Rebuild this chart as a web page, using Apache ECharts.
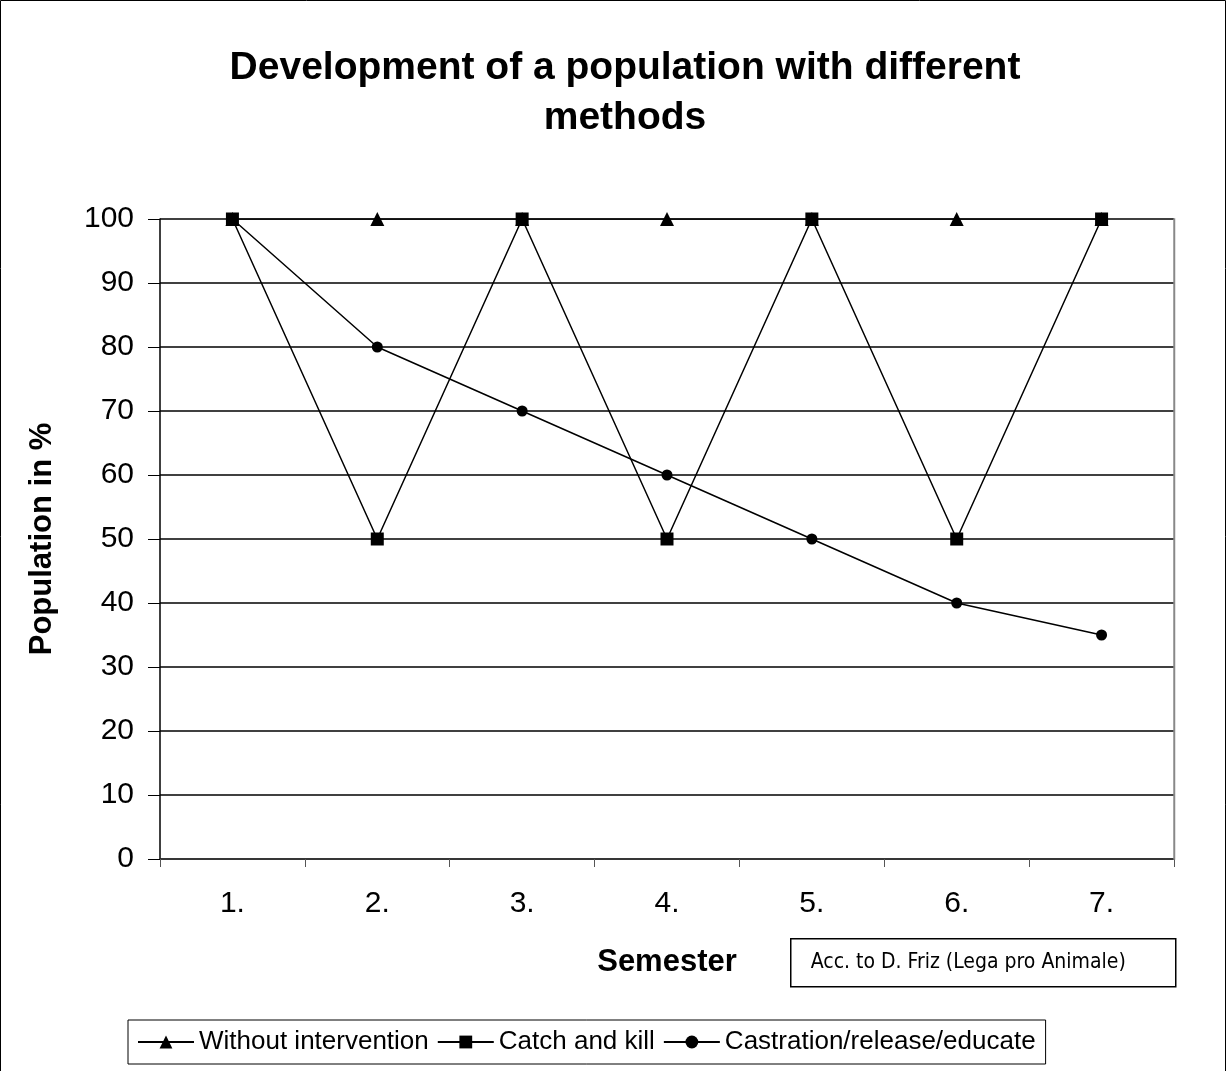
<!DOCTYPE html>
<html>
<head>
<meta charset="utf-8">
<script src="https://cdn.jsdelivr.net/npm/echarts@6/dist/echarts.min.js"></script>
<style>
  html, body { margin: 0; padding: 0; background: #fff; }
  #chart { width: 1227px; height: 1071px; }
</style>
</head>
<body>
<div id="chart"></div>
<script>
var semesters = ['1.', '2.', '3.', '4.', '5.', '6.', '7.'];
var withoutIntervention = [100, 100, 100, 100, 100, 100, 100];
var catchAndKill = [100, 50, 100, 50, 100, 50, 100];
var castration = [100, 80, 70, 60, 50, 40, 35];

var myChart = echarts.init(document.getElementById('chart'));

function lineSeries(name, data, symbol, size) {
  return {
    name: name,
    type: 'line',
    data: data,
    symbol: symbol,
    symbolSize: size,
    showAllSymbol: true,
    lineStyle: { color: '#000', width: 1.5 },
    itemStyle: { color: '#000' },
    emphasis: { disabled: true },
    animation: false
  };
}

var option = {
  backgroundColor: '#fff',
  animation: false,
  title: {
    text: 'Development of a population with different\nmethods',
    left: 620,
    top: 38,
    textAlign: 'center',
    textStyle: {
      fontFamily: 'Liberation Sans',
      fontSize: 39,
      fontWeight: 'bold',
      color: '#000',
      lineHeight: 50
    }
  },
  grid: { left: 160, right: 53, top: 219, bottom: 212 },
  xAxis: {
    type: 'category',
    data: semesters,
    boundaryGap: true,
    name: 'Semester',
    nameLocation: 'middle',
    nameGap: 88,
    nameTextStyle: { fontFamily: 'Liberation Sans', fontSize: 31, fontWeight: 'bold', color: '#000' },
    axisLine: { lineStyle: { color: '#333', width: 1.5 } },
    axisTick: { show: true, length: 8, lineStyle: { color: '#555' } },
    axisLabel: { fontFamily: 'Liberation Sans', fontSize: 30, color: '#000', margin: 30 }
  },
  yAxis: {
    type: 'value',
    min: 0,
    max: 100,
    interval: 10,
    name: 'Population in %',
    nameLocation: 'middle',
    nameGap: 102,
    nameTextStyle: { fontFamily: 'Liberation Sans', fontSize: 31, fontWeight: 'bold', color: '#000' },
    axisLine: { show: true, lineStyle: { color: '#000', width: 1.5 } },
    axisTick: { show: true, length: 12, lineStyle: { color: '#000' } },
    axisLabel: { fontFamily: 'Liberation Sans', fontSize: 30, color: '#000', margin: 26 },
    splitLine: { show: true, lineStyle: { color: '#000', width: 1.5 } }
  },
  legend: {
    data: ['Without intervention', 'Catch and kill', 'Castration/release/educate'],
    left: 128,
    top: 1020,
    orient: 'horizontal',
    itemGap: 8,
    itemWidth: 56,
    itemHeight: 16,
    padding: [9, 10, 9, 9],
    borderColor: '#000',
    borderWidth: 1,
    borderRadius: 0,
    textStyle: { fontFamily: 'Liberation Sans', fontSize: 26, color: '#000', padding: [0, 0, 0, 0] }
  },
  graphic: [
    {
      type: 'rect',
      shape: { x: 0.5, y: 0.5, width: 1225, height: 1080 },
      style: { fill: null, stroke: '#000', lineWidth: 1 },
      silent: true
    },
    {
      type: 'rect',
      shape: { x: 1174, y: 219, width: 0.5, height: 640 },
      style: { fill: null, stroke: '#888', lineWidth: 1.5 },
      silent: true,
      z: 1
    },
    {
      type: 'group',
      left: 790,
      top: 938,
      children: [
        {
          type: 'rect',
          shape: { x: 0, y: 0, width: 385, height: 48 },
          style: { fill: '#fff', stroke: '#000', lineWidth: 1.5 }
        },
        {
          type: 'text',
          x: 20,
          y: 24,
          style: {
            text: 'Acc. to D. Friz (Lega pro Animale)',
            fontFamily: 'DejaVu Sans Condensed',
            fontSize: 21,
            fill: '#000',
            verticalAlign: 'middle'
          }
        }
      ]
    }
  ],
  series: [
    lineSeries('Without intervention', withoutIntervention, 'triangle', 14),
    lineSeries('Catch and kill', catchAndKill, 'rect', 13),
    lineSeries('Castration/release/educate', castration, 'circle', 11)
  ]
};

myChart.setOption(option);
</script>
</body>
</html>
